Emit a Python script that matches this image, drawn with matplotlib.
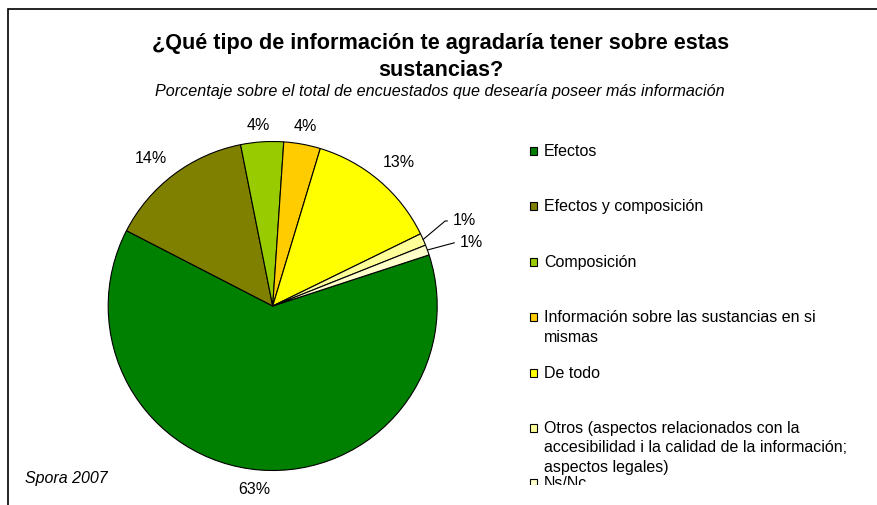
import numpy as np
import matplotlib
matplotlib.use("Agg")
import matplotlib.pyplot as plt
from matplotlib.patches import Rectangle
from matplotlib.transforms import Bbox, TransformedBbox

plt.rcParams['font.family'] = ['Liberation Sans', 'DejaVu Sans']

categories = ['Efectos', 'Efectos y composición', 'Composición',
              'Información sobre las sustancias en si\nmismas', 'De todo',
              'Otros (aspectos relacionados con la\naccesibilidad i la calidad de la información;\naspectos legales)',
              'Ns/Nc']
values = [62.6, 14.3, 4.2, 3.6, 13.1, 1.2, 1.0]
colors = ['#008000', '#808000', '#99CC00', '#FFCC00', '#FFFF00', '#FFFF99', '#FFFFCC']

W, H = 878, 505
fig = plt.figure(figsize=(W / 100, H / 100), dpi=100)

def fx(px):
    return px / W

def fy(py):
    return 1 - py / H

# pie axes: centre (272.7, 306), radius 164.5 px
cx, cy, r = 272.7, 306, 164.5
ax = fig.add_axes([fx(cx - r), fy(cy + r), 2 * r / W, 2 * r / H])
wedges, _ = ax.pie(values, colors=colors, startangle=18.1, counterclock=False,
                   wedgeprops=dict(edgecolor='black', linewidth=0.8))
ax.set_xlim(-1, 1)
ax.set_ylim(-1, 1)
ax.set_aspect('equal')
ax.axis('off')

total = sum(values)
label_dist = [1.12, 1.16, 1.10, 1.11, 1.16]
label_shift = [-1, 2.5, 1, 0, -1]  # degrees
small_pos = {5: (1.096, 0.517), 6: (1.138, 0.389)}
small_ang = {5: 40, 6: 15}
for i, w in enumerate(wedges):
    pct = '%.0f%%' % (values[i] / total * 100)
    mid = np.deg2rad((w.theta1 + w.theta2) / 2)
    if i in small_pos:
        ax.annotate(pct, xy=(np.cos(mid), np.sin(mid)), xytext=small_pos[i],
                    ha='left', va='center', fontsize=11.5, annotation_clip=False,
                    arrowprops=dict(arrowstyle='-', lw=0.8, color='black',
                                    shrinkA=2, shrinkB=0,
                                    connectionstyle='angle,angleA=0,angleB=%d,rad=0' % small_ang[i]))
    else:
        a = mid + np.deg2rad(label_shift[i])
        ax.text(label_dist[i] * np.cos(a), label_dist[i] * np.sin(a), pct,
                ha='center', va='center', fontsize=11.5, clip_on=False)

# titles
fig.text(fx(441), fy(43), '¿Qué tipo de información te agradaría tener sobre estas',
         ha='center', va='center', fontsize=15.6, fontweight='bold')
fig.text(fx(441), fy(70), 'sustancias?', ha='center', va='center', fontsize=15.6, fontweight='bold')
fig.text(fx(440), fy(92), 'Porcentaje sobre el total de encuestados que desearía poseer más información',
         ha='center', va='center', fontsize=11.6, style='italic')
fig.text(fx(25), fy(478), 'Spora 2007', ha='left', va='center', fontsize=11.5, style='italic')

# legend, clipped at the bottom of the chart area
clip = TransformedBbox(Bbox([[fx(500), fy(485)], [fx(878), fy(120)]]), fig.transFigure)
step = 55.4
for i, lab in enumerate(categories):
    base = 156 + i * step
    sq = Rectangle((fx(530), fy(base - 1)), 7 / W, 8 / H, transform=fig.transFigure,
                   facecolor=colors[i], edgecolor='black', linewidth=0.8)
    sq.set_clip_box(clip)
    fig.patches.append(sq)
    for k, line in enumerate(lab.split('\n')):
        t = fig.text(fx(544), fy(base + 19.5 * k), line, ha='left', va='baseline',
                     fontsize=11.5)
        t.set_clip_box(clip)
        t.set_clip_on(True)

# chart border (runs past the right and bottom edges)
fig.patches.append(Rectangle((fx(8), -0.1), 1.2, fy(9) + 0.1, transform=fig.transFigure,
                             fill=False, edgecolor='black', linewidth=1.2))

fig.savefig('out.png', dpi=100)
